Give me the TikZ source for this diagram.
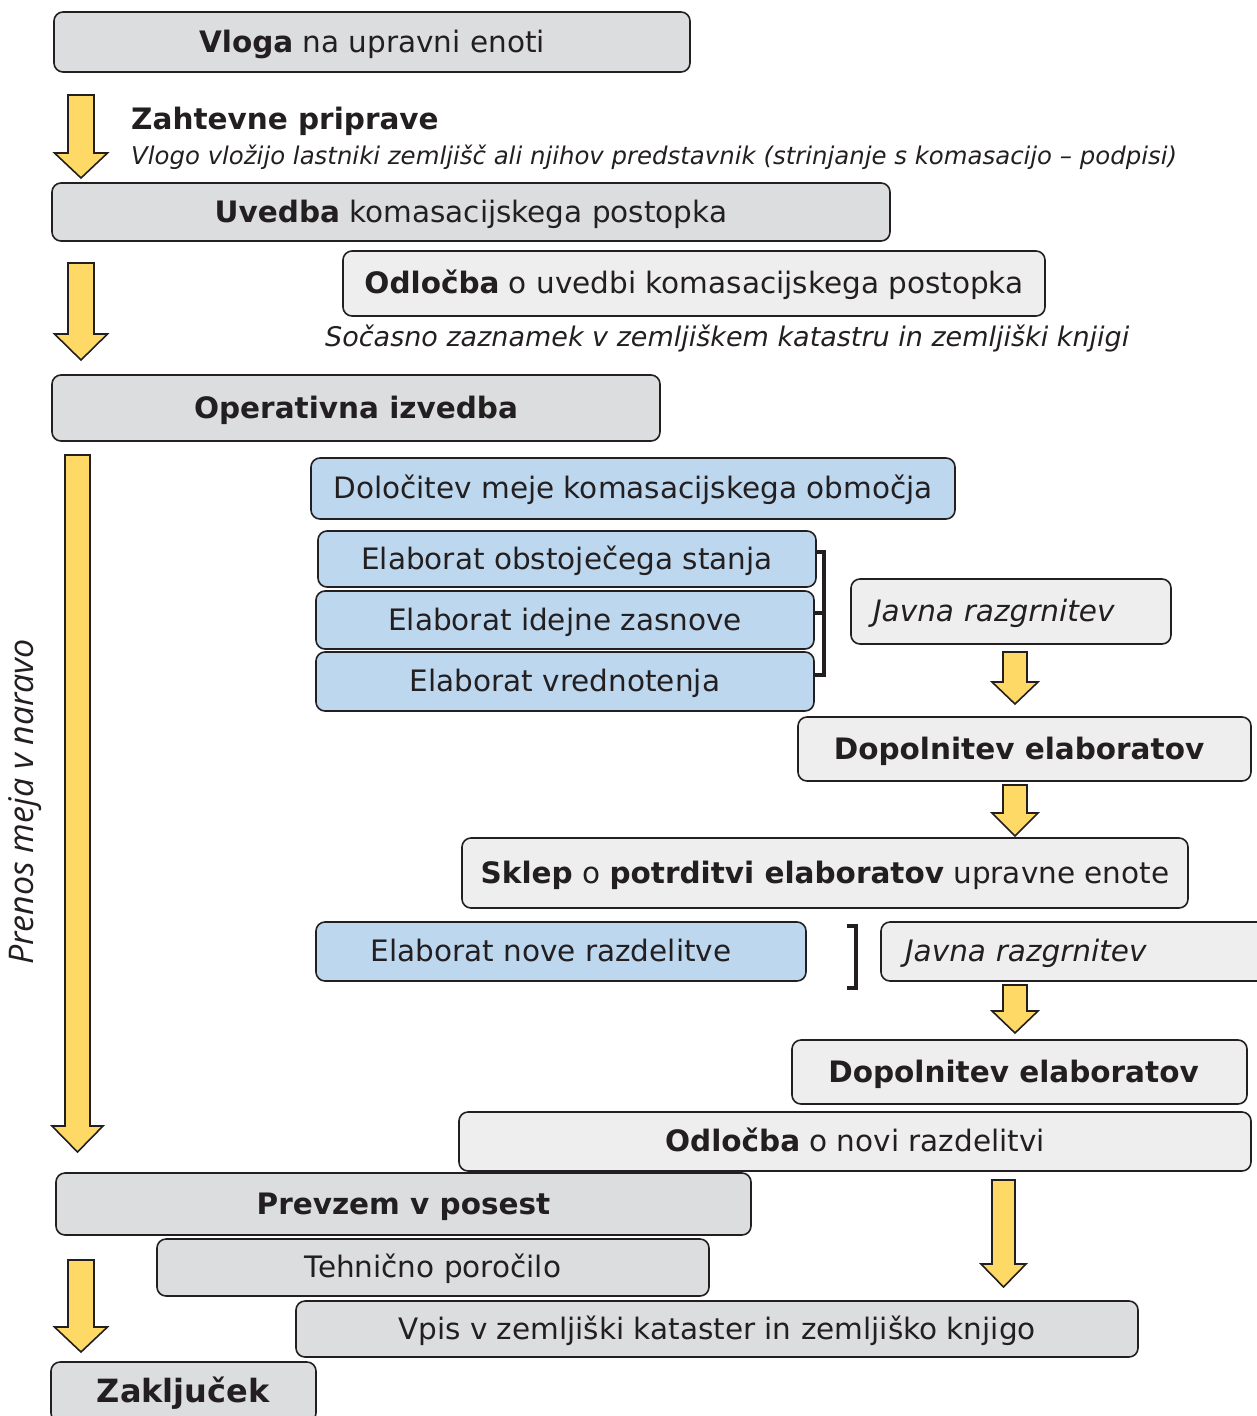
\documentclass[tikz,border=0pt]{standalone}
\usepackage{fontspec}
\setmainfont{DejaVu Sans}
\newfontfamily\sidefont{Open Sans}

\definecolor{linec}{HTML}{231F20}
\definecolor{grayc}{HTML}{DCDDDF}
\definecolor{lightc}{HTML}{EEEEEE}
\definecolor{bluec}{HTML}{BDD7EE}
\definecolor{yellowc}{HTML}{FFD966}

\tikzset{
  box/.style={draw=linec, line width=1.6pt, rounded corners=9pt, inner sep=0pt, text=linec,
              text height=20pt, text depth=0pt},
  graybox/.style={box, fill=grayc},
  lightbox/.style={box, fill=lightc},
  bluebox/.style={box, fill=bluec},
  freetext/.style={anchor=base west, inner sep=0pt, text=linec},
  yarrow/.style={draw=linec, line width=1.6pt, fill=yellowc, line join=miter},
  brack/.style={draw=linec, line width=4.5pt},
}

% block arrow: centre x, top, start of head, tip, half shaft, half head
\newcommand{\blockarrow}[6]{%
  \draw[yarrow] (#1-#5,#2) -- (#1+#5,#2) -- (#1+#5,#3) -- (#1+#6,#3) -- (#1,#4) -- (#1-#6,#3) -- (#1-#5,#3) -- cycle;}

\begin{document}
\begin{tikzpicture}[x=1pt, y=-1pt, font={\fontsize{29.5}{35}\selectfont}]
    \useasboundingbox (0,0) rectangle (1257,1416);

    % preparation
    \node[graybox, minimum width=636, minimum height=60] (vloga) at (372,42) {\textbf{Vloga} na upravni enoti};
    \blockarrow{81}{95}{153}{178}{13}{26.5}
    \node[freetext] (zaht) at (131,129) {\textbf{Zahtevne priprave}};
    \node[freetext, font={\fontsize{24.4}{29}\selectfont\itshape}] (vlogo) at (131,164)
        {Vlogo vložijo lastniki zemljišč ali njihov predstavnik (strinjanje s komasacijo – podpisi)};

    % start of procedure
    \node[graybox, minimum width=838, minimum height=58] (uvedba) at (471,212) {\textbf{Uvedba} komasacijskega postopka};
    \node[lightbox, minimum width=702, minimum height=65] (odl1) at (694,283.5) {\textbf{Odločba} o uvedbi komasacijskega postopka};
    \blockarrow{81}{263}{334}{360}{13}{26.5}
    \node[freetext, font={\fontsize{27}{32}\selectfont\itshape}] (socasno) at (325,346)
        {Sočasno zaznamek v zemljiškem katastru in zemljiški knjigi};

    % operative part
    \node[graybox, minimum width=608, minimum height=66] (oper) at (356,408) {\textbf{Operativna izvedba}};
    \blockarrow{77.5}{455}{1126}{1152}{12.5}{25.5}
    \node[rotate=90, text=linec, font={\fontsize{34}{40}\sidefont\itshape}] (prenos) at (25,802) {Prenos meja v naravo};

    \node[bluebox, minimum width=644, minimum height=61] (dolo) at (633,488.5) {Določitev meje komasacijskega območja};
    \node[bluebox, minimum width=498, minimum height=56] (elab1) at (567,559) {Elaborat obstoječega stanja};
    \node[bluebox, minimum width=498, minimum height=58] (elab2) at (565,620) {Elaborat idejne zasnove};
    \node[bluebox, minimum width=498, minimum height=59] (elab3) at (565,681.5) {Elaborat vrednotenja};
    \draw[brack] (815,552) -- (824,552) -- (824,675) -- (815,675);
    \draw[brack] (815,613) -- (824,613);

    \node[lightbox, minimum width=320, minimum height=65, text width=276, inner xsep=22, align=left,
          font={\fontsize{29.5}{35}\selectfont\itshape}] (javna1) at (1011,611.5) {Javna razgrnitev};
    \blockarrow{1015}{652}{682}{704}{12}{23}
    \node[lightbox, minimum width=453, minimum height=64] (dop1) at (1024.5,749) {\textbf{Dopolnitev elaboratov}\hspace*{11pt}};
    \blockarrow{1015}{785}{813}{836}{12}{23}
    \node[lightbox, minimum width=726, minimum height=70] (sklep) at (825,873)
        {\textbf{Sklep} o \textbf{potrditvi elaboratov} upravne enote};

    \node[bluebox, minimum width=490, minimum height=59] (elabnr) at (561,951.5) {Elaborat nove razdelitve\hspace*{20pt}};
    \draw[brack] (847,926) -- (856,926) -- (856,988) -- (847,988);
    \node[lightbox, minimum width=389, minimum height=59, text width=341, inner xsep=24, align=left,
          font={\fontsize{29.5}{35}\selectfont\itshape}] (javna2) at (1075.5,951.5) {Javna razgrnitev};
    \blockarrow{1015}{985}{1011}{1033}{12}{23}
    \node[lightbox, minimum width=455, minimum height=64] (dop2) at (1019.5,1072) {\textbf{Dopolnitev elaboratov}\hspace*{12pt}};
    \node[lightbox, minimum width=792, minimum height=59] (odl2) at (855,1141.5) {\textbf{Odločba} o novi razdelitvi};

    % taking possession and closing
    \node[graybox, minimum width=695, minimum height=62] (prevzem) at (403.5,1204) {\textbf{Prevzem v posest}};
    \blockarrow{1003.5}{1180}{1264}{1287}{11.5}{22.5}
    \node[graybox, minimum width=552, minimum height=57] (tehn) at (433,1267.5) {Tehnično poročilo};
    \node[graybox, minimum width=842, minimum height=56] (vpis) at (717,1329) {Vpis v zemljiški kataster in zemljiško knjigo};
    \blockarrow{81}{1260}{1327}{1352}{13}{26.5}
    \node[graybox, minimum width=265, minimum height=60, font={\fontsize{32}{38}\selectfont}] (zakl) at (183.5,1392) {\textbf{Zaključek}};
\end{tikzpicture}
\end{document}
